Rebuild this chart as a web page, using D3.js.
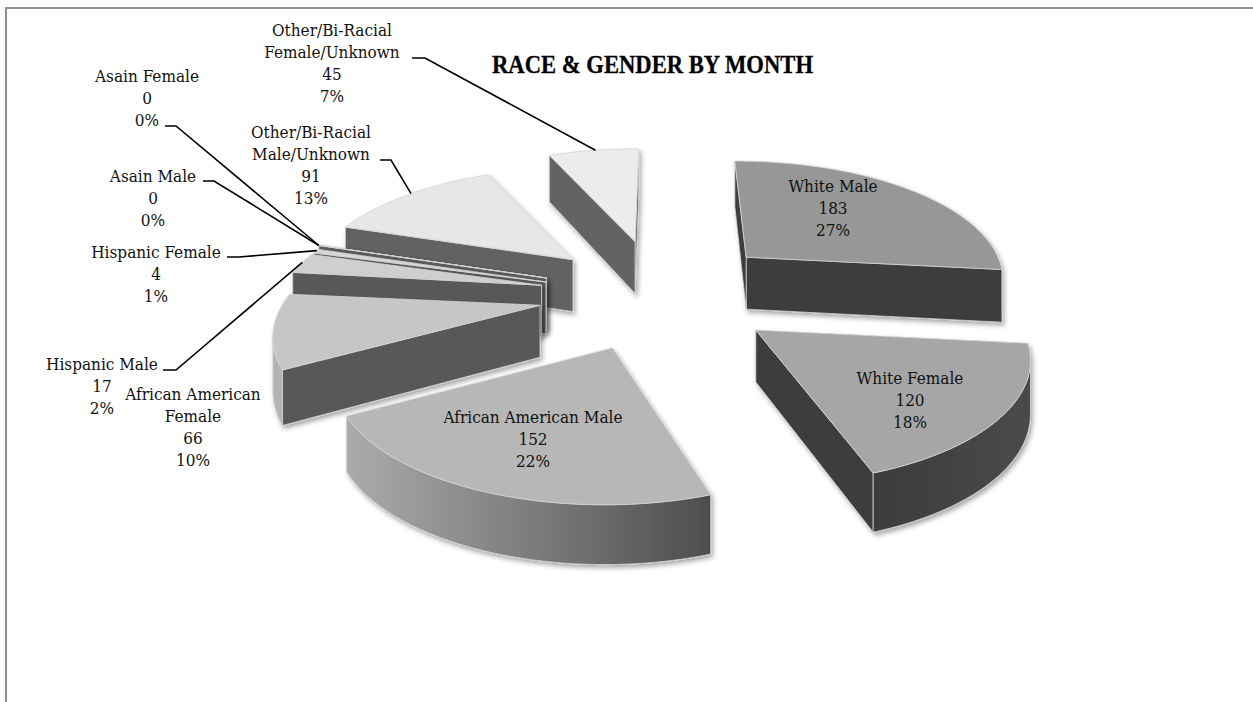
<!DOCTYPE html>
<html><head><meta charset="utf-8">
<script src="https://cdn.jsdelivr.net/npm/d3@7"></script>
<style>html,body{margin:0;padding:0;background:#fff}svg{display:block}</style>
</head><body><svg id="c" width="1253" height="702"></svg>
<script>
const categories=["White Male","White Female","African American Male","African American Female","Hispanic Male","Hispanic Female","Asain Male","Asain Female","Other/Bi-Racial Male/Unknown","Other/Bi-Racial Female/Unknown"];
const values=[183,120,152,66,17,4,0,0,91,45];
const percents=["27%","18%","22%","10%","2%","1%","0%","0%","13%","7%"];
const titleText="RACE & GENDER BY MONTH";
const topColors=["#979797","#a6a6a6","#b7b7b7","#c6c6c6","#cfcfcf","#d6d6d6","#dcdcdc","#dcdcdc","#e7e7e7","#ececec"];
const wallColors=["#3d3d3d","#3e3e3e","#4e4e4e","#585858","#585858","#585858","#5c5c5c","#5c5c5c","#626262","#646464"];
const arcLeft=["#3d3d3d","#3c3c3c","#ababab","#b4b4b4","#aaaaaa","#aaaaaa","#aaaaaa","#aaaaaa","#aaaaaa","#aaaaaa"];
const arcRight=["#3d3d3d","#4a4a4a","#4e4e4e","#b4b4b4","#aaaaaa","#aaaaaa","#aaaaaa","#aaaaaa","#aaaaaa","#aaaaaa"];
// label text lines, wrapped as in the picture
const labelLines=[["White Male"],["White Female"],["African American Male"],["African American","Female"],["Hispanic Male"],["Hispanic Female"],["Asain Male"],["Asain Female"],["Other/Bi-Racial","Male/Unknown"],["Other/Bi-Racial","Female/Unknown"]];
// label placement: centre x, first baseline, optional leader start and elbow
const labelPlace=[
 {x:833,y:192},{x:910,y:384},{x:533,y:423},{x:193,y:400},
 {x:102,y:370,from:[163,370],elbow:[176,370]},
 {x:156,y:258,from:[227,257],elbow:[239,257]},
 {x:153,y:182,from:[203,181],elbow:[214,181]},
 {x:147,y:82,from:[165,126],elbow:[176,126]},
 {x:311,y:138,from:[380,160],elbow:[391,160]},
 {x:332,y:36,from:[412,58],elbow:[425,58]}
];
// per-slice correction for the distorted 3D view: apex shift, angle shift in degrees, radius scale at both ends
const viewFit=[
 {dx:0,dy:0,ds:-1,de:1,rs:1.07,re:.97},
 {dx:1,dy:2,ds:1,de:1,rs:1.03,re:1},
 {dx:-7,dy:1,ds:4.5,de:.5,rs:1,re:1.03},
 {dx:-2,dy:-2,ds:1,de:1,rs:1,re:1},
 {dx:1,dy:-1,ds:2,de:3,rs:1,re:1},
 {dx:3,dy:1,ds:2,de:2,rs:1,re:1},
 {dx:3,dy:-2,ds:2,de:2,rs:1,re:1},
 {dx:3,dy:-2,ds:2,de:2,rs:1,re:1},
 {dx:6,dy:0,ds:2,de:2,rs:1,re:1},
 {dx:5,dy:0,ds:2,de:3,rs:1.02,re:1.02}
];
const FONT="'DejaVu Serif Condensed','Liberation Serif',serif";
const svg=d3.select("#c");
const defs=svg.append("defs");
const f=defs.append("filter").attr("id","sh").attr("x","-10%").attr("y","-10%").attr("width","120%").attr("height","125%");
f.append("feDropShadow").attr("dx",2).attr("dy",3).attr("stdDeviation",2.5).attr("flood-color","#000").attr("flood-opacity",.35);

// frame
svg.append("path").attr("d","M6,702V8H1253").attr("fill","none").attr("stroke","#8f8f8f").attr("stroke-width",2);

// projection
const DEG=Math.PI/180;
const C={x:659,y:295},E={x:120,y:55},A=258,B=115,P=.26,DEPTH=52,DP=.13;
function local(a,r=1){const u=r*Math.sin(a),v=-r*Math.cos(a),w=1-P*v;return {x:A*u/w,y:B*v/w,v};}
const arcs=d3.pie().sort(null).startAngle(-2*DEG).endAngle(2*Math.PI-2*DEG)(values);
const line=d3.line().x(d=>d.x).y(d=>d.y);
const slices=arcs.map((d,i)=>{
  const fit=viewFit[i];
  const mid=(d.startAngle+d.endAngle)/2;
  const ox=C.x+E.x*Math.sin(mid)+fit.dx,oy=C.y-E.y*Math.cos(mid)+fit.dy;
  const a0=d.startAngle+fit.ds*DEG,a1=d.endAngle+fit.de*DEG;
  const n=Math.max(2,Math.ceil((a1-a0)/DEG));
  const pts=d3.range(n+1).map(k=>{
    const t=k/n,a=a0+(a1-a0)*t,q=local(a,fit.rs+(fit.re-fit.rs)*t);
    return {x:ox+q.x,y:oy+q.y,v:q.v};
  });
  return {i,mid,apex:{x:ox,y:oy,v:0},pts};
});
const down=p=>({x:p.x,y:p.y+DEPTH/(1-DP*p.v)});
function strip(a){return line(a)+"L"+a.slice().reverse().map(p=>{const q=down(p);return q.x+","+q.y;}).join("L")+"Z";}

const order=slices.slice().sort((a,b)=>d3.ascending(-Math.cos(a.mid),-Math.cos(b.mid)));
order.forEach(s=>{
  const i=s.i,g=svg.append("g").attr("filter","url(#sh)");
  const gid="arc"+i;
  const lg=defs.append("linearGradient").attr("id",gid);
  lg.append("stop").attr("offset",0).attr("stop-color",arcLeft[i]);
  lg.append("stop").attr("offset",1).attr("stop-color",arcRight[i]);
  const edge=(path,fill)=>g.append("path").attr("d",path).attr("fill",fill).attr("stroke","#d4d4d4").attr("stroke-width",.8).attr("stroke-linejoin","round");
  const first=s.pts[0],last=s.pts[s.pts.length-1];
  // hidden faces are those whose top edge runs left to right on screen
  if(last.x>s.apex.x) edge(strip([last,s.apex]),wallColors[i]);
  if(first.x<s.apex.x) edge(strip([s.apex,first]),wallColors[i]);
  const vis=[];
  for(let k=0;k<s.pts.length-1;k++){ if(s.pts[k+1].x<s.pts[k].x){ if(!vis.length)vis.push(s.pts[k]); vis.push(s.pts[k+1]); } }
  if(vis.length>1) edge(strip(vis),"url(#"+gid+")");
  edge(line([s.apex,...s.pts])+"Z",topColors[i]);
});

// leaders
svg.append("g").selectAll("path").data(slices.filter(s=>labelPlace[s.i].from)).join("path")
 .attr("fill","none").attr("stroke","#000").attr("stroke-width",1.6)
 .attr("d",s=>{const p=labelPlace[s.i],t=s.pts[Math.floor(s.pts.length/2)];
   return d3.line()([p.from,p.elbow,[t.x,t.y]]);});

// labels
const lab=svg.append("g").attr("font-family",FONT).attr("font-size",17).attr("fill","#111").attr("text-anchor","middle");
categories.forEach((c,i)=>{
  const p=labelPlace[i];
  const t=lab.append("text").attr("x",p.x).attr("y",p.y);
  [...labelLines[i],String(values[i]),percents[i]].forEach((l,k)=>{
    t.append("tspan").attr("x",p.x).attr("dy",k?22:0).text(l);
  });
});
svg.append("text").attr("x",492).attr("y",72.5).attr("font-family","'Liberation Serif',serif").attr("font-weight","bold").attr("font-size",26).attr("textLength",321).attr("lengthAdjust","spacingAndGlyphs").attr("fill","#000").attr("stroke","#000").attr("stroke-width",.3).text(titleText);
</script></body></html>
